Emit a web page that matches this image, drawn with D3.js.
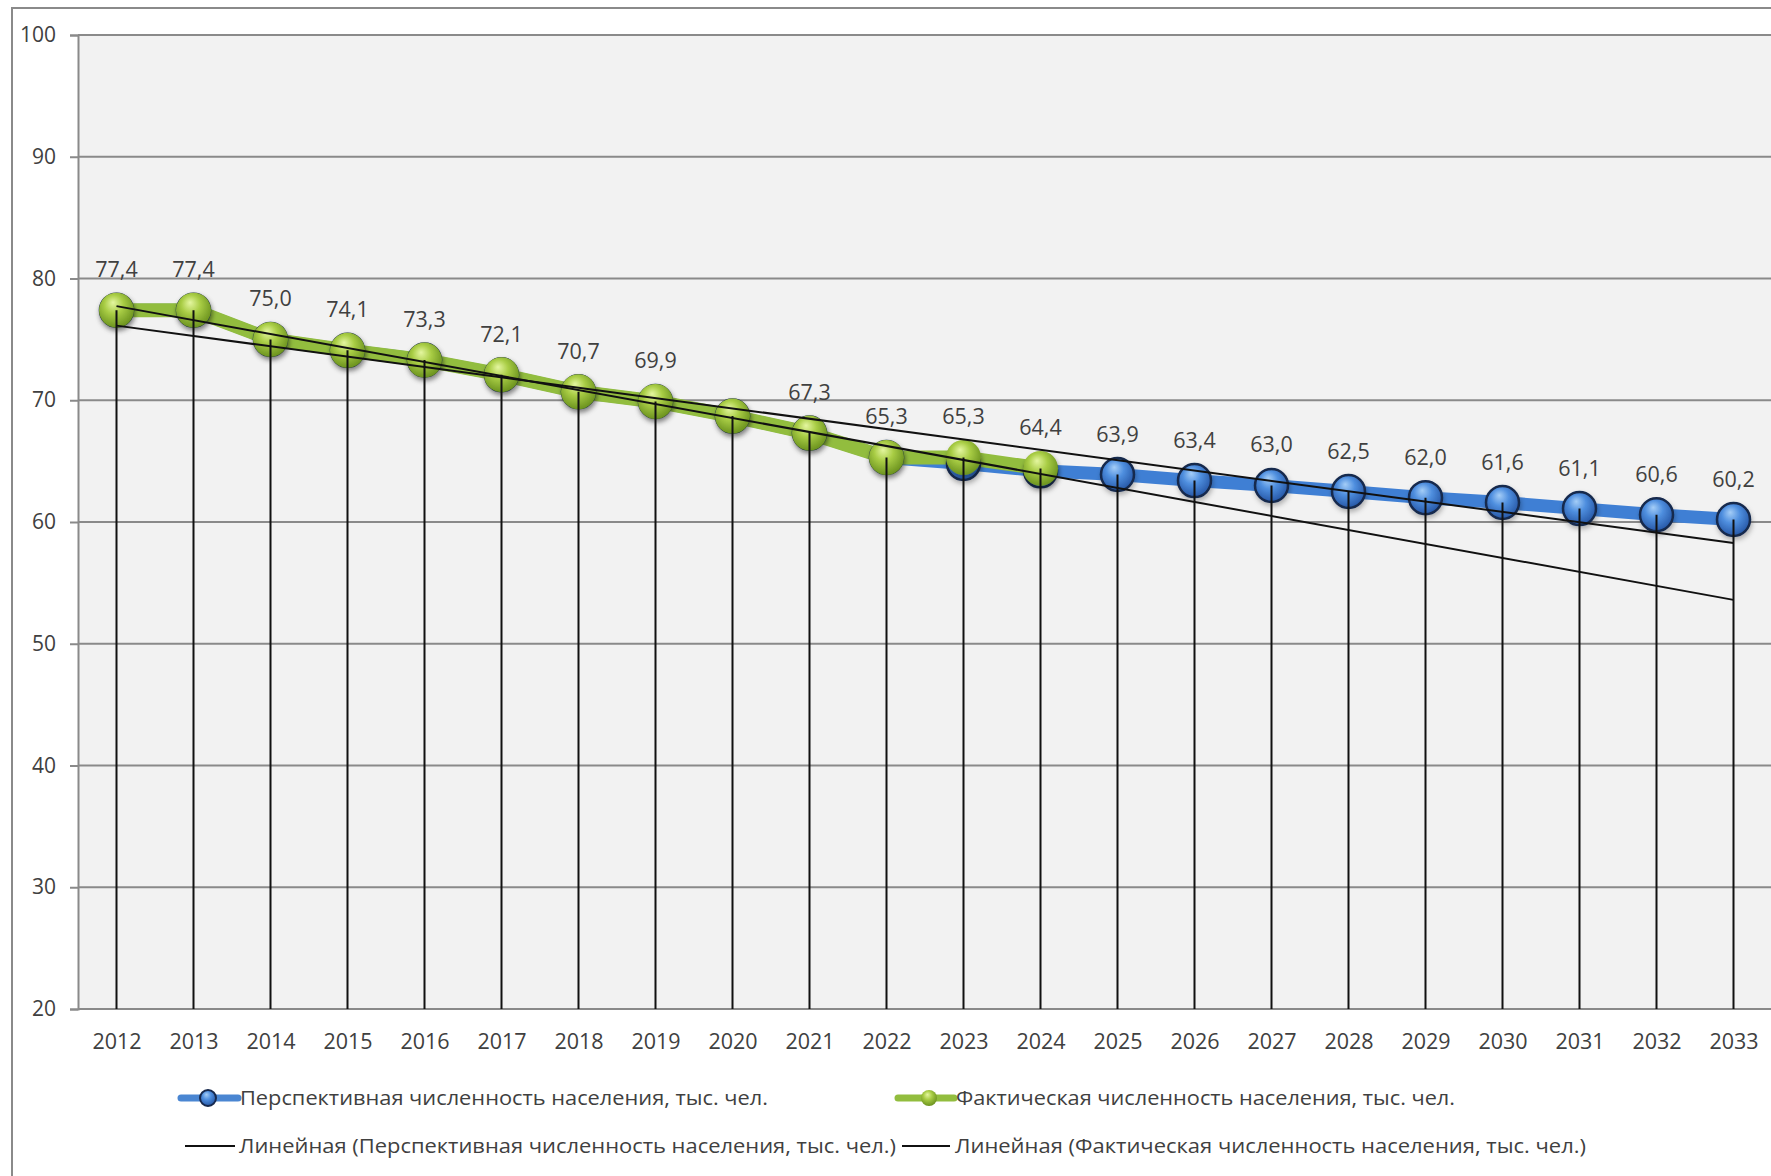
<!DOCTYPE html>
<html>
<head>
<meta charset="utf-8">
<script src="https://cdn.jsdelivr.net/npm/d3@7"></script>
<style>
  html, body { margin: 0; padding: 0; background: #ffffff; }
  svg { display: block; }
  text { font-family: "Open Sans", "Noto Sans", sans-serif; fill: #404040; }
</style>
</head>
<body>
<svg id="chart" width="1771" height="1176"></svg>
<script>
// ---------- DATA ----------
const years = ["2012","2013","2014","2015","2016","2017","2018","2019","2020","2021","2022",
               "2023","2024","2025","2026","2027","2028","2029","2030","2031","2032","2033"];
// Фактическая численность населения, тыс. чел.
const actual = [77.4, 77.4, 75.0, 74.1, 73.3, 72.1, 70.7, 69.9, 68.7, 67.3, 65.3, 65.3, 64.4,
                null, null, null, null, null, null, null, null, null];
// Перспективная численность населения, тыс. чел.
const projected = [77.4, 77.4, 75.0, 74.1, 73.3, 72.1, 70.7, 69.9, 68.7, 67.3, 65.3, 64.8, 64.2,
                   63.9, 63.4, 63.0, 62.5, 62.0, 61.6, 61.1, 60.6, 60.2];
const yTicks = [20, 30, 40, 50, 60, 70, 80, 90, 100];
const hiddenLabelYears = ["2020"];
const seriesNames = [
  "Перспективная численность населения, тыс. чел.",
  "Фактическая численность населения, тыс. чел.",
  "Линейная (Перспективная численность населения, тыс. чел.)",
  "Линейная (Фактическая численность населения, тыс. чел.)"
];

// ---------- LAYOUT ----------
const W = 1771, H = 1176;
const plot = { left: 78, right: 1772, top: 35, bottom: 1009 };

const svg = d3.select("#chart");
const defs = svg.append("defs");

const gGreen = defs.append("radialGradient").attr("id", "gGreen")
  .attr("cx", "45%").attr("cy", "40%").attr("r", "60%").attr("fx", "40%").attr("fy", "28%");
gGreen.append("stop").attr("offset", "0%").attr("stop-color", "#e4f6a0");
gGreen.append("stop").attr("offset", "45%").attr("stop-color", "#a9cd45");
gGreen.append("stop").attr("offset", "100%").attr("stop-color", "#6c931f");

const gBlue = defs.append("radialGradient").attr("id", "gBlue")
  .attr("cx", "45%").attr("cy", "40%").attr("r", "60%").attr("fx", "40%").attr("fy", "28%");
gBlue.append("stop").attr("offset", "0%").attr("stop-color", "#a4cdf7");
gBlue.append("stop").attr("offset", "45%").attr("stop-color", "#4f8fdf");
gBlue.append("stop").attr("offset", "100%").attr("stop-color", "#2657a6");

const shadow = defs.append("filter").attr("id", "shadow")
  .attr("x", "-50%").attr("y", "-50%").attr("width", "200%").attr("height", "200%");
shadow.append("feDropShadow").attr("dx", 1).attr("dy", 3).attr("stdDeviation", 2.5)
  .attr("flood-color", "#000").attr("flood-opacity", 0.28);

// chart background + border
svg.append("rect").attr("x", 0).attr("y", 0).attr("width", W).attr("height", H).attr("fill", "#ffffff");
svg.append("rect").attr("x", 12).attr("y", 8).attr("width", W + 20).attr("height", H + 20)
  .attr("fill", "#ffffff").attr("stroke", "#8a8a8a").attr("stroke-width", 2);

// scales
const x = d3.scalePoint().domain(years).range([plot.left, plot.right]).padding(0.5);
const y = d3.scaleLinear().domain([20, 100]).range([plot.bottom, plot.top]);

// plot area
svg.append("rect").attr("x", plot.left).attr("y", plot.top)
  .attr("width", plot.right - plot.left).attr("height", plot.bottom - plot.top)
  .attr("fill", "#f2f2f2");

// gridlines + y axis
const yAxis = d3.axisLeft(y).tickValues(yTicks).tickSize(8).tickPadding(14).tickFormat(d3.format("d"));
const gy = svg.append("g").attr("transform", `translate(${plot.left},0)`).call(yAxis);
gy.select(".domain").attr("stroke", "#8a8a8a").attr("stroke-width", 2);
gy.selectAll(".tick line").attr("stroke", "#8a8a8a").attr("stroke-width", 2);
gy.selectAll(".tick text").attr("font-size", 21).attr("fill", "#404040")
  .style("font-family", "'Open Sans', sans-serif");

svg.append("g").selectAll("line").data(yTicks).join("line")
  .attr("x1", plot.left).attr("x2", plot.right)
  .attr("y1", d => y(d)).attr("y2", d => y(d))
  .attr("stroke", "#8a8a8a").attr("stroke-width", 2);

// x axis
const xAxis = d3.axisBottom(x).tickSize(0).tickPadding(25);
const gx = svg.append("g").attr("transform", `translate(0,${plot.bottom})`).call(xAxis);
gx.select(".domain").remove();
gx.selectAll(".tick text").attr("font-size", 21.5).attr("fill", "#404040")
  .style("font-family", "'Open Sans', sans-serif");

// lines
const lineGen = d3.line()
  .defined(d => d.v != null)
  .x(d => x(d.year)).y(d => y(d.v));
const projData = years.map((yr, i) => ({ year: yr, v: projected[i] }));
const actData = years.map((yr, i) => ({ year: yr, v: actual[i] }));

svg.append("path").datum(projData).attr("d", lineGen)
  .attr("fill", "none").attr("stroke", "#3f7fd4").attr("stroke-width", 13)
  .attr("stroke-linejoin", "round").attr("stroke-linecap", "round");
svg.append("path").datum(actData).attr("d", lineGen)
  .attr("fill", "none").attr("stroke", "#92bd3e").attr("stroke-width", 14)
  .attr("stroke-linejoin", "round").attr("stroke-linecap", "round");

// markers
svg.append("g").selectAll("circle").data(projData.filter(d => d.v != null)).join("circle")
  .attr("cx", d => x(d.year)).attr("cy", d => y(d.v)).attr("r", 16.5)
  .attr("fill", "url(#gBlue)").attr("stroke", "#17294d").attr("stroke-width", 2.5)
  .attr("filter", "url(#shadow)");
svg.append("g").selectAll("circle").data(actData.filter(d => d.v != null)).join("circle")
  .attr("cx", d => x(d.year)).attr("cy", d => y(d.v)).attr("r", 17.5)
  .attr("fill", "url(#gGreen)").attr("filter", "url(#shadow)");

// linear trendlines (least squares on category index), extended to last category
function linFit(vals) {
  const pts = vals.map((v, i) => [i, v]).filter(p => p[1] != null);
  const mx = d3.mean(pts, p => p[0]), my = d3.mean(pts, p => p[1]);
  const sxy = d3.sum(pts, p => (p[0] - mx) * (p[1] - my));
  const sxx = d3.sum(pts, p => (p[0] - mx) ** 2);
  const b = sxy / sxx, a = my - b * mx;
  return i => a + b * i;
}
const fitP = linFit(projected), fitA = linFit(actual);
const n = years.length - 1;
[fitP, fitA].forEach(f => {
  svg.append("line")
    .attr("x1", x(years[0])).attr("y1", y(f(0)))
    .attr("x2", x(years[n])).attr("y2", y(f(n)))
    .attr("stroke", "#111").attr("stroke-width", 2);
});

// drop lines
svg.append("g").selectAll("line").data(years).join("line")
  .attr("x1", d => x(d)).attr("x2", d => x(d))
  .attr("y1", (d, i) => y(d3.max([actual[i], projected[i]])))
  .attr("y2", plot.bottom)
  .attr("stroke", "#111").attr("stroke-width", 2);

// data labels
const fmt = v => d3.format(".1f")(v).replace(".", ",");
const labelData = years.map((yr, i) => {
  const v = actual[i] != null ? actual[i] : projected[i];
  return { year: yr, v };
}).filter(d => d.v != null && !hiddenLabelYears.includes(d.year));
svg.append("g").selectAll("text").data(labelData).join("text")
  .attr("x", d => x(d.year)).attr("y", d => y(d.v) - 33)
  .attr("text-anchor", "middle").attr("font-size", 21.5)
  .text(d => fmt(d.v));

// legend
const leg = svg.append("g");
function legendText(tx, ty, str, endX) {
  const t = leg.append("text").attr("x", tx).attr("y", ty).attr("dy", "0.35em")
    .attr("font-size", 20.5).text(str);
  if (endX) t.attr("textLength", endX - tx).attr("lengthAdjust", "spacingAndGlyphs");
  return t;
}
const r1 = 1098, r2 = 1146;
leg.append("line").attr("x1", 181).attr("x2", 238).attr("y1", r1).attr("y2", r1)
  .attr("stroke", "#4a86d2").attr("stroke-width", 7).attr("stroke-linecap", "round");
leg.append("circle").attr("cx", 208).attr("cy", r1).attr("r", 8)
  .attr("fill", "url(#gBlue)").attr("stroke", "#17294d").attr("stroke-width", 2);
legendText(240, r1, seriesNames[0], 768);

leg.append("line").attr("x1", 898).attr("x2", 954).attr("y1", r1).attr("y2", r1)
  .attr("stroke", "#92bd3e").attr("stroke-width", 7).attr("stroke-linecap", "round");
leg.append("circle").attr("cx", 929).attr("cy", r1).attr("r", 8)
  .attr("fill", "url(#gGreen)");
legendText(956, r1, seriesNames[1], 1455);

leg.append("line").attr("x1", 185).attr("x2", 235).attr("y1", r2).attr("y2", r2)
  .attr("stroke", "#111").attr("stroke-width", 2);
legendText(239, r2, seriesNames[2], 896);
leg.append("line").attr("x1", 902).attr("x2", 950).attr("y1", r2).attr("y2", r2)
  .attr("stroke", "#111").attr("stroke-width", 2);
legendText(955, r2, seriesNames[3], 1586);
</script>
</body>
</html>
